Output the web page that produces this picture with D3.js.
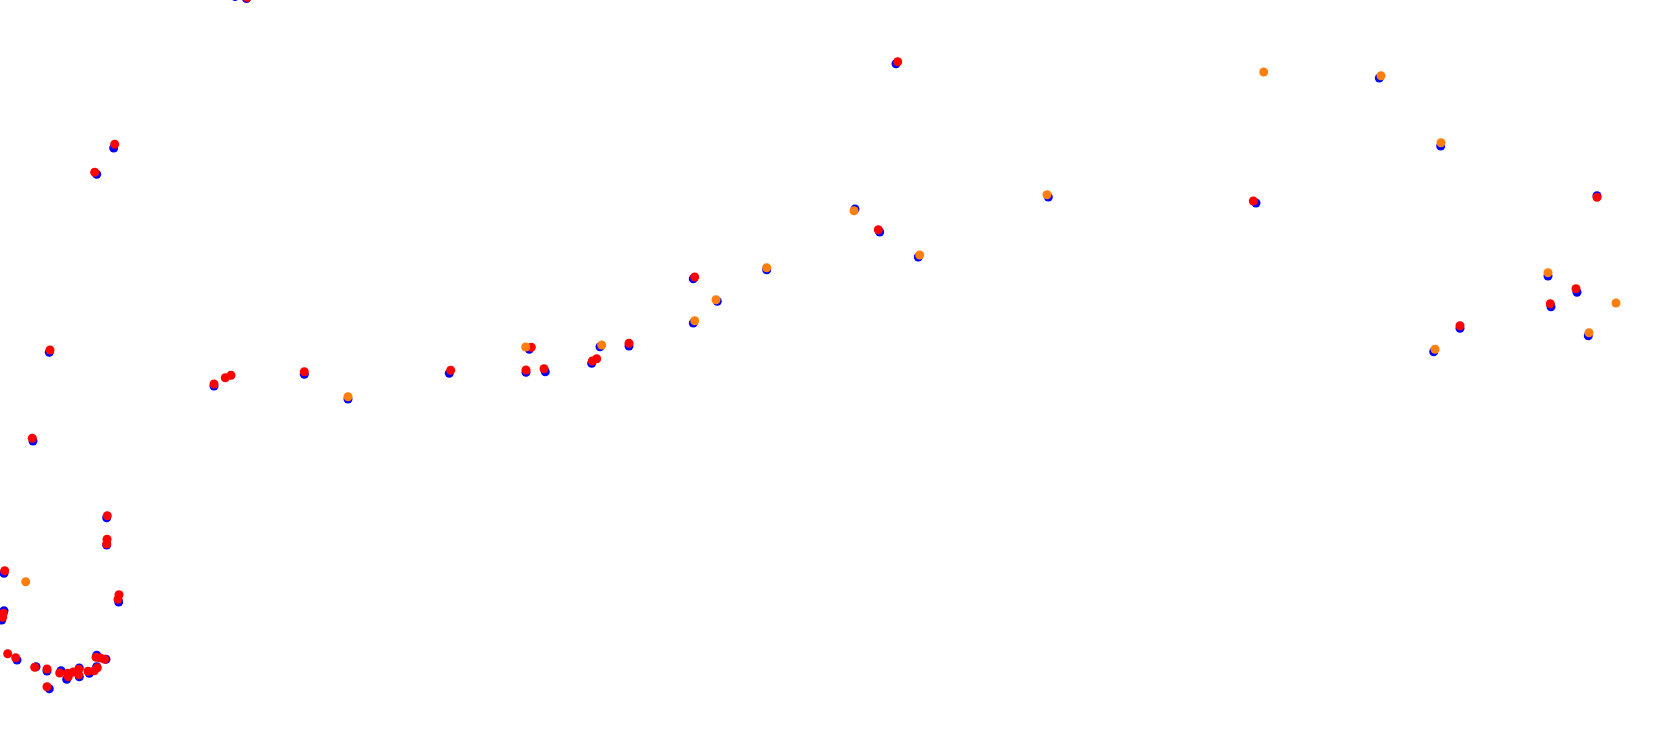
<!DOCTYPE html>
<html>
<head>
<meta charset="utf-8">
<script src="https://cdn.jsdelivr.net/npm/d3@7"></script>
<style>
  html, body { margin: 0; padding: 0; background: #fff; overflow: hidden; }
  svg { display: block; }
</style>
</head>
<body>
<svg id="chart" width="1680" height="752"></svg>
<script>
// Series values (x, y in the chart's coordinate units)
const blueX = [235, 246.5, 113.7, 96.7, 49.3, 33, 106.7, 106.7, 4, 118.7, 4, 1.7, 17, 36, 47, 49.3, 61, 66.7, 79.3, 79.3, 89.3, 96.7, 96.7, 106,
  214, 304.3, 348, 449.3, 529.3, 526, 545.3, 600, 591.7, 629, 693.3, 717.3, 693.3, 766.7, 855, 879.7, 918.3, 896,
  1048.3, 1256, 1379.3, 1440.7, 1433.7, 1460, 1548, 1551, 1577, 1588.3, 1597];
const blueY = [-3.5, -1.5, 148, 174.3, 352.3, 441, 517.7, 545, 573.3, 602, 610.7, 620, 660, 666.7, 671, 688.7, 670.7, 679.3, 668, 676.7, 673.3, 666.7, 655.3, 659.3,
  386, 374.3, 399, 373.3, 349.3, 372.3, 371.7, 346.7, 363.3, 346, 323, 301.3, 278.7, 269.7, 209, 232, 257, 63.7,
  197, 203, 78, 146, 351.7, 328.3, 276, 306.7, 292.3, 335.7, 195.7];

const redX = [247, 114.7, 94.7, 50, 32.3, 107.3, 107, 106.7, 4.7, 119, 118, 3.3, 2.7, 7.7, 15.7, 34.7, 47, 47, 59.7, 67.7, 68.3, 73.3, 78.7, 78.7, 88, 94.3, 97.3, 96, 100.3, 104.7,
  214, 225.3, 231, 304.3, 450.7, 531.3, 526, 544, 592.3, 596.7, 629, 694.7, 878.3, 897.7, 1253.3, 1597, 1576, 1550.3, 1460];
const redY = [-2.5, 144.3, 172.3, 350, 438.3, 515.7, 539.3, 544, 570.7, 594.7, 599.3, 613.3, 617.3, 653.7, 657.7, 667.3, 669, 686.7, 673, 673.3, 676.7, 672, 669.3, 674.7, 671.3, 670.7, 667.7, 657.3, 658, 659.3,
  384, 377.7, 375.3, 371.7, 370.3, 347.3, 370, 368.7, 361, 358.7, 343.3, 277, 229.7, 61.7, 201, 197.3, 288.7, 303.7, 325.7];

const orangeX = [25.7, 348, 525.7, 601.7, 694.7, 716, 766.7, 854, 919.7, 1047, 1263.7, 1381, 1441, 1435, 1548, 1589, 1616];
const orangeY = [581.7, 396.7, 347, 345, 320.7, 299.7, 267.7, 210.7, 255, 194.7, 72, 75.7, 142.7, 349.3, 272.7, 332.7, 303];

const seriesNames = ["blue", "red", "orange"];
const seriesColors = ["#0000ff", "#ff0000", "#ff7f0e"];

const W = 1680, H = 752;
const svg = d3.select("#chart");
const x = d3.scaleLinear().domain([0, 1680]).range([0, W]);
const y = d3.scaleLinear().domain([0, 752]).range([0, H]);

const series = [
  { name: seriesNames[0], color: seriesColors[0], pts: blueX.map((v, i) => [v, blueY[i]]) },
  { name: seriesNames[1], color: seriesColors[1], pts: redX.map((v, i) => [v, redY[i]]) },
  { name: seriesNames[2], color: seriesColors[2], pts: orangeX.map((v, i) => [v, orangeY[i]]) }
];

series.forEach(s => {
  svg.append("g").attr("class", "series-" + s.name)
    .selectAll("circle")
    .data(s.pts)
    .join("circle")
    .attr("cx", d => x(d[0]))
    .attr("cy", d => y(d[1]))
    .attr("r", 4.5)
    .attr("fill", s.color);
});
</script>
</body>
</html>
